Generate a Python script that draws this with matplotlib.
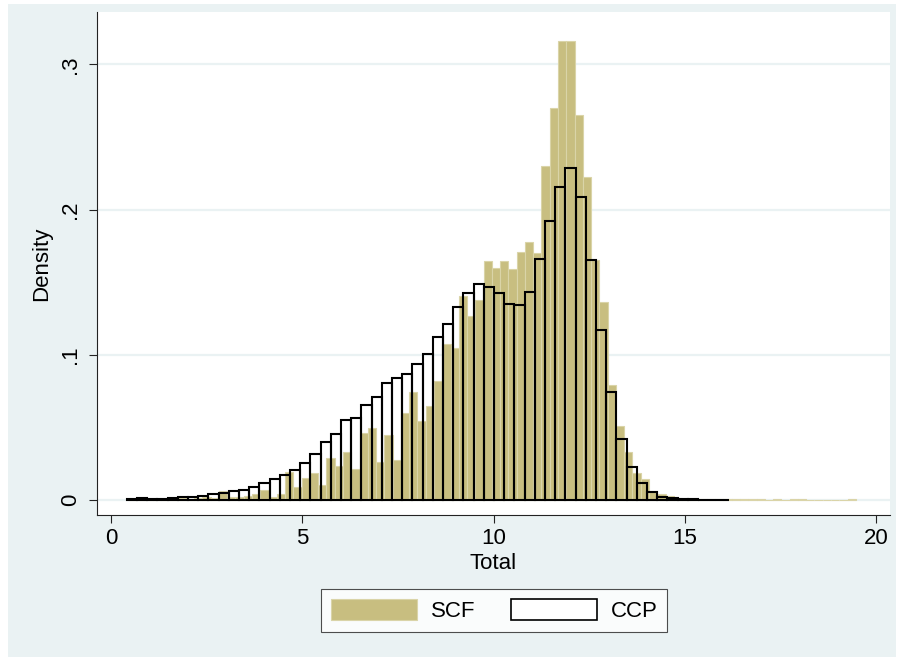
import numpy as np
import matplotlib.pyplot as plt
from matplotlib.patches import Patch, Rectangle

# density per bin of Total, bins listed left to right
scf_range = (0.435, 19.475)
scf_density = [
    0.0003, 0.0006, 0.0004, 0.0005, 0.0008, 0.0006, 0.0012, 0.0010, 0.0015, 0.0023, 0.0012,
    0.0064, 0.0020, 0.0023, 0.0028, 0.0040, 0.0066, 0.0023, 0.0040, 0.0195, 0.0092,
    0.0155, 0.0183, 0.0105, 0.0289, 0.0234, 0.0329, 0.0211, 0.0461, 0.0493, 0.0260,
    0.0449, 0.0275, 0.0597, 0.0741, 0.0541, 0.0647, 0.0819, 0.1071, 0.1048, 0.1404,
    0.1266, 0.1376, 0.1643, 0.1599, 0.1647, 0.1592, 0.1707, 0.1778, 0.1698, 0.2299,
    0.2696, 0.3161, 0.3161, 0.2654, 0.2225, 0.1656, 0.1361, 0.0791, 0.0509, 0.0333,
    0.0188, 0.0142, 0.0064, 0.0039, 0.0028, 0.0012, 0.0008, 0.0008, 0.0007, 0.0007,
    0.0006, 0.0006, 0.0006, 0.0006, 0.0006, 0.0006, 0.0, 0.0006, 0.0, 0.0006,
    0.0006, 0.0, 0.0, 0.0, 0.0, 0.0, 0.0006,
]

ccp_range = (0.403, 16.15)
ccp_density = [
    0.0006, 0.0016, 0.0010, 0.0010, 0.0011, 0.0019, 0.0022, 0.0030, 0.0040, 0.0047,
    0.0062, 0.0069, 0.0087, 0.0115, 0.0142, 0.0174, 0.0206, 0.0252, 0.0317, 0.0401,
    0.0452, 0.0550, 0.0567, 0.0652, 0.0707, 0.0803, 0.0842, 0.0867, 0.0936, 0.1005,
    0.1124, 0.1209, 0.1330, 0.1427, 0.1489, 0.1466, 0.1422, 0.1347, 0.1340, 0.1432,
    0.1662, 0.1922, 0.2156, 0.2287, 0.2083, 0.1650, 0.1170, 0.0745, 0.0422, 0.0229,
    0.0115, 0.0058, 0.0023, 0.0012, 0.0007, 0.0005, 0.0003, 0.0003, 0.0002,
]

series_labels = ["SCF", "CCP"]
x_ticks = [0, 5, 10, 15, 20]
y_ticks = [0, 0.1, 0.2, 0.3]
y_tick_labels = ["0", ".1", ".2", ".3"]

khaki = "#C8BE80"
khaki_edge = "#DAD4A8"
panel = "#EAF2F3"

plt.rcParams["font.family"] = ["Liberation Sans", "DejaVu Sans"]

fig = plt.figure(figsize=(9.04, 6.61), dpi=100)
fig.patch.set_facecolor("white")
fig.patches.append(Rectangle((8 / 904, 4 / 661), 888 / 904, 653 / 661,
                             transform=fig.transFigure, facecolor=panel,
                             edgecolor="none", zorder=-10))

ax = fig.add_axes([97 / 904, 1 - 515 / 661, 793 / 904, 503 / 661])
ax.set_facecolor("white")

scf_edges = np.linspace(scf_range[0], scf_range[1], len(scf_density) + 1)
ccp_edges = np.linspace(ccp_range[0], ccp_range[1], len(ccp_density) + 1)

ax.bar(scf_edges[:-1], scf_density, width=np.diff(scf_edges), align="edge",
       color=khaki, edgecolor=khaki_edge, linewidth=0.8, zorder=2)
ax.bar(ccp_edges[:-1], ccp_density, width=np.diff(ccp_edges), align="edge",
       facecolor="none", edgecolor="black", linewidth=1.5, zorder=3)

ax.set_xlim(-0.374, 20.37)
ax.set_ylim(-0.0103, 0.336)

ax.set_xticks(x_ticks)
ax.set_xticklabels([str(t) for t in x_ticks], fontsize=16)
ax.set_yticks(y_ticks)
ax.set_yticklabels(y_tick_labels, fontsize=16, rotation=90, va="center")
ax.tick_params(axis="both", direction="out", length=5.5, width=0.8,
               color="#222222", pad=4)
ax.tick_params(axis="y", pad=6)
ax.grid(axis="y", color=panel, linewidth=1.6, zorder=0)
ax.set_axisbelow(True)

for side in ["top", "right"]:
    ax.spines[side].set_visible(False)
for side in ["left", "bottom"]:
    ax.spines[side].set_color("#222222")
    ax.spines[side].set_linewidth(0.8)

ax.set_xlabel("Total", fontsize=16, labelpad=3)
ax.set_ylabel("Density", fontsize=16, labelpad=6)

handles = [
    Patch(facecolor=khaki, edgecolor=khaki_edge, linewidth=0.8),
    Patch(facecolor="white", edgecolor="black", linewidth=1.2),
]
leg = fig.legend(handles, series_labels, loc="center", ncol=2,
                 bbox_to_anchor=(494 / 904, 1 - 610.5 / 661),
                 fontsize=16, frameon=True, fancybox=False,
                 handlelength=3.9, handleheight=1.1, handletextpad=0.6,
                 columnspacing=1.6, borderpad=0.45)
leg.get_frame().set_edgecolor("#222222")
leg.get_frame().set_linewidth(0.8)
leg.get_frame().set_facecolor("white")

fig.savefig("out.png", dpi=100, facecolor=fig.get_facecolor())
